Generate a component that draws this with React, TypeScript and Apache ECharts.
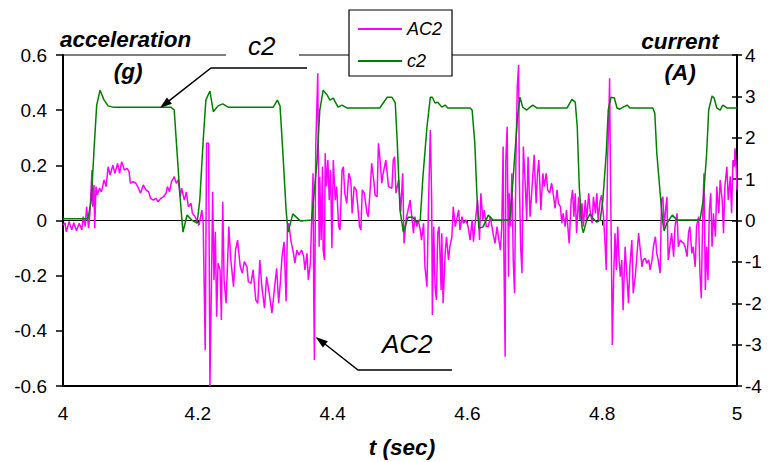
import React, { useEffect, useRef } from "react";
import * as echarts from "echarts";

const FONT = "'Liberation Sans', Arial, Helvetica, sans-serif";

const legendNames = ["AC2", "c2"];
const leftAxisName = "acceleration";
const leftAxisUnit = "(g)";
const rightAxisName = "current";
const rightAxisUnit = "(A)";
const xAxisName = "t (sec)";

// c2: current (A) vs time (s)
const curT = [4.000, 4.037, 4.042, 4.046, 4.050, 4.055, 4.061, 4.067, 4.074, 4.160, 4.165, 4.169, 4.174, 4.178, 4.184, 4.191, 4.199, 4.203, 4.208, 4.212, 4.218, 4.223, 4.230, 4.237, 4.245, 4.312, 4.318, 4.322, 4.326, 4.331, 4.334, 4.341, 4.352, 4.369, 4.377, 4.381, 4.386, 4.392, 4.396, 4.401, 4.408, 4.414, 4.421, 4.470, 4.481, 4.488, 4.493, 4.496, 4.500, 4.505, 4.512, 4.519, 4.525, 4.530, 4.534, 4.540, 4.545, 4.548, 4.552, 4.556, 4.562, 4.567, 4.571, 4.604, 4.607, 4.611, 4.614, 4.617, 4.623, 4.631, 4.638, 4.663, 4.668, 4.674, 4.678, 4.682, 4.688, 4.693, 4.697, 4.703, 4.748, 4.755, 4.760, 4.763, 4.766, 4.770, 4.772, 4.777, 4.782, 4.786, 4.792, 4.797, 4.801, 4.806, 4.809, 4.813, 4.818, 4.822, 4.826, 4.831, 4.837, 4.841, 4.875, 4.878, 4.881, 4.886, 4.890, 4.892, 4.896, 4.904, 4.911, 4.945, 4.950, 4.955, 4.958, 4.963, 4.966, 4.970, 4.975, 4.979, 4.985, 5.000];
const curA = [0.04, 0.04, 0.5, 1.7, 2.79, 3.15, 2.91, 2.77, 2.74, 2.74, 2.67, 1.70, 0.50, -0.28, 0.13, 0.01, -0.06, 0.5, 1.94, 2.91, 3.13, 2.63, 2.77, 2.82, 2.74, 2.74, 2.91, 2.77, 1.70, 0.25, -0.28, 0.16, -0.01, 0.01, 1.46, 2.67, 3.15, 3.03, 2.91, 2.96, 2.74, 2.79, 2.72, 2.72, 2.98, 2.98, 2.84, 1.87, 0.25, -0.28, 0.08, 0.08, -0.04, 0.01, 1.05, 2.26, 2.98, 2.98, 2.84, 2.86, 2.74, 2.79, 2.72, 2.72, 2.67, 1.87, 0.66, -0.18, -0.16, 0.13, 0.01, 0.01, 1.05, 2.43, 2.98, 2.74, 2.67, 2.74, 2.79, 2.72, 2.72, 2.93, 2.86, 2.26, 0.81, -0.16, -0.30, 0.01, 0.16, 0.06, -0.04, 0.01, 0.50, 1.63, 2.67, 2.98, 2.96, 2.72, 2.69, 2.74, 2.79, 2.72, 2.72, 2.60, 1.63, 0.66, -0.06, -0.25, -0.06, 0.13, 0.01, 0.01, 0.50, 1.63, 2.67, 3.01, 2.96, 2.72, 2.67, 2.79, 2.72, 2.72];

// AC2: acceleration (g) samples [t, g]
const accSamples: [number, number][] = [
  [4.000, -0.016], [4.003, -0.009], [4.005, -0.041], [4.009, -0.004], [4.013, -0.034], [4.016, -0.008],
  [4.020, -0.037], [4.024, -0.010], [4.028, -0.034], [4.030, 0.014], [4.033, -0.022], [4.035, 0.050],
  [4.038, -0.028], [4.040, 0.027], [4.043, 0.183], [4.044, 0.050], [4.046, 0.129], [4.047, -0.028],
  [4.049, 0.123], [4.051, 0.092], [4.054, 0.117], [4.057, 0.104], [4.061, 0.147], [4.064, 0.123],
  [4.067, 0.195], [4.070, 0.165], [4.074, 0.201], [4.077, 0.171], [4.081, 0.207], [4.084, 0.171],
  [4.087, 0.213], [4.091, 0.183], [4.095, 0.189], [4.098, 0.177], [4.100, 0.135], [4.104, 0.141],
  [4.108, 0.135], [4.112, 0.117], [4.115, 0.099], [4.119, 0.129], [4.123, 0.111], [4.127, 0.104],
  [4.130, 0.080], [4.134, 0.074], [4.138, 0.080], [4.141, 0.068], [4.145, 0.080], [4.149, 0.086],
  [4.153, 0.099], [4.155, 0.123], [4.158, 0.104], [4.161, 0.141], [4.165, 0.159], [4.168, 0.135],
  [4.171, 0.147], [4.174, 0.086], [4.176, 0.117], [4.180, 0.074], [4.183, 0.104], [4.186, 0.050],
  [4.190, 0.062], [4.192, 0.026], [4.196, 0.014], [4.199, -0.004], [4.202, -0.016], [4.206, 0.038],
  [4.208, -0.010], [4.211, -0.470], [4.213, 0.280], [4.216, 0.280], [4.218, -0.600], [4.221, -0.095],
  [4.222, 0.104], [4.224, -0.216], [4.226, -0.041], [4.228, -0.349], [4.230, -0.155], [4.233, -0.179],
  [4.235, -0.361], [4.237, 0.068], [4.239, -0.216], [4.242, -0.300], [4.245, -0.095], [4.246, -0.022],
  [4.249, -0.143], [4.253, -0.240], [4.256, -0.107], [4.259, -0.071], [4.263, -0.168], [4.266, -0.191],
  [4.269, -0.149], [4.273, -0.168], [4.275, -0.222], [4.279, -0.228], [4.282, -0.179], [4.286, -0.288],
  [4.289, -0.300], [4.292, -0.143], [4.295, -0.240], [4.299, -0.318], [4.302, -0.204], [4.306, -0.264],
  [4.310, -0.336], [4.314, -0.240], [4.317, -0.173], [4.320, -0.300], [4.322, -0.240], [4.325, -0.131],
  [4.328, -0.077], [4.331, -0.294], [4.333, -0.022], [4.335, -0.010], [4.338, -0.071], [4.342, -0.119],
  [4.344, -0.155], [4.347, -0.107], [4.350, -0.125], [4.354, -0.107], [4.357, -0.131], [4.359, -0.179],
  [4.362, -0.119], [4.364, -0.216], [4.367, -0.155], [4.369, 0.002], [4.371, 0.171], [4.372, -0.264],
  [4.373, -0.506], [4.375, 0.268], [4.378, 0.534], [4.380, -0.095], [4.381, 0.159], [4.383, -0.071],
  [4.385, 0.195], [4.386, -0.107], [4.388, -0.143], [4.389, 0.244], [4.391, 0.123], [4.393, 0.219],
  [4.395, 0.074], [4.397, 0.183], [4.399, -0.101], [4.401, 0.219], [4.404, 0.074], [4.406, 0.123],
  [4.409, -0.022], [4.411, -0.034], [4.414, 0.183], [4.416, 0.195], [4.418, 0.099], [4.421, 0.062],
  [4.424, 0.171], [4.427, 0.147], [4.429, 0.026], [4.432, 0.123], [4.435, 0.111], [4.437, 0.062],
  [4.440, -0.022], [4.442, -0.034], [4.444, 0.111], [4.447, 0.099], [4.451, 0.026], [4.453, 0.014],
  [4.456, 0.123], [4.458, 0.207], [4.461, 0.147], [4.463, 0.092], [4.466, 0.086], [4.468, 0.280],
  [4.470, 0.231], [4.473, 0.135], [4.475, 0.171], [4.479, 0.219], [4.483, 0.123], [4.488, 0.117],
  [4.490, 0.219], [4.492, 0.231], [4.494, 0.099], [4.498, 0.147], [4.501, 0.032], [4.504, 0.171],
  [4.506, -0.083], [4.509, 0.002], [4.512, 0.038], [4.515, 0.074], [4.517, 0.026], [4.520, -0.046],
  [4.522, 0.014], [4.525, -0.022], [4.527, 0.002], [4.530, -0.034], [4.532, -0.071], [4.535, -0.010],
  [4.537, -0.168], [4.540, -0.240], [4.542, 0.026], [4.545, 0.328], [4.547, 0.074], [4.548, -0.343],
  [4.550, -0.022], [4.552, -0.240], [4.554, -0.288], [4.556, -0.046], [4.558, -0.022], [4.561, -0.252],
  [4.562, -0.046], [4.564, -0.300], [4.567, -0.119], [4.569, -0.059], [4.572, -0.143], [4.574, -0.095],
  [4.577, -0.059], [4.579, 0.050], [4.582, -0.022], [4.584, 0.002], [4.587, 0.038], [4.589, -0.034],
  [4.592, 0.014], [4.594, -0.010], [4.598, 0.002], [4.601, -0.022], [4.604, -0.071], [4.607, 0.002],
  [4.609, -0.077], [4.611, -0.022], [4.615, 0.074], [4.618, -0.071], [4.620, 0.099], [4.623, 0.002],
  [4.625, 0.038], [4.628, -0.022], [4.631, -0.022], [4.634, 0.014], [4.638, -0.046], [4.641, -0.083],
  [4.644, -0.022], [4.646, -0.059], [4.649, -0.107], [4.651, -0.022], [4.653, 0.268], [4.654, -0.095],
  [4.656, -0.494], [4.657, 0.219], [4.659, 0.340], [4.661, -0.204], [4.662, 0.099], [4.664, -0.022],
  [4.666, 0.171], [4.668, -0.143], [4.670, -0.264], [4.672, 0.219], [4.674, 0.485], [4.676, 0.564],
  [4.677, 0.159], [4.679, -0.095], [4.681, -0.191], [4.683, 0.268], [4.686, 0.123], [4.688, 0.002],
  [4.690, 0.231], [4.693, 0.014], [4.696, 0.123], [4.699, 0.238], [4.702, 0.062], [4.704, 0.171],
  [4.706, 0.219], [4.709, 0.038], [4.712, 0.171], [4.714, 0.123], [4.717, 0.171], [4.719, 0.111],
  [4.722, 0.099], [4.725, 0.135], [4.728, 0.086], [4.730, 0.044], [4.733, 0.111], [4.735, 0.062],
  [4.738, 0.050], [4.740, -0.010], [4.742, 0.026], [4.745, -0.022], [4.747, 0.038], [4.751, -0.083],
  [4.754, 0.074], [4.756, 0.111], [4.758, 0.014], [4.760, 0.099], [4.762, -0.046], [4.765, 0.086],
  [4.767, 0.002], [4.770, 0.062], [4.772, -0.022], [4.775, 0.074], [4.777, 0.002], [4.780, 0.099],
  [4.782, 0.038], [4.785, -0.010], [4.787, 0.086], [4.790, 0.026], [4.792, 0.099], [4.794, 0.002],
  [4.797, 0.074], [4.799, 0.092], [4.802, 0.014], [4.804, -0.071], [4.806, -0.179], [4.808, 0.219],
  [4.810, 0.389], [4.811, 0.516], [4.812, 0.219], [4.814, -0.204], [4.815, -0.451], [4.817, -0.204],
  [4.819, -0.046], [4.821, -0.179], [4.823, -0.022], [4.825, -0.143], [4.827, -0.204], [4.829, -0.143],
  [4.831, -0.325], [4.833, -0.168], [4.834, -0.095], [4.837, -0.216], [4.839, -0.300], [4.841, -0.168],
  [4.844, -0.071], [4.846, -0.264], [4.849, -0.204], [4.851, -0.143], [4.854, -0.046], [4.856, -0.095],
  [4.859, -0.168], [4.861, -0.143], [4.864, -0.137], [4.866, -0.155], [4.869, -0.143], [4.871, -0.179],
  [4.874, -0.143], [4.876, -0.095], [4.879, -0.059], [4.881, -0.119], [4.883, -0.143], [4.886, -0.191],
  [4.888, 0.074], [4.890, 0.086], [4.892, -0.022], [4.894, 0.038], [4.896, 0.086], [4.898, -0.143],
  [4.901, -0.083], [4.903, -0.046], [4.906, -0.131], [4.908, -0.022], [4.911, 0.026], [4.913, -0.095],
  [4.916, -0.071], [4.918, -0.077], [4.921, -0.083], [4.923, -0.095], [4.926, -0.131], [4.928, -0.046],
  [4.930, -0.022], [4.933, -0.119], [4.935, -0.095], [4.938, -0.168], [4.940, -0.022], [4.943, 0.014],
  [4.945, -0.191], [4.947, -0.282], [4.949, 0.002], [4.951, 0.171], [4.953, -0.252], [4.955, -0.095],
  [4.957, -0.216], [4.959, 0.038], [4.961, 0.099], [4.963, -0.095], [4.965, 0.026], [4.968, -0.059],
  [4.970, 0.123], [4.973, 0.026], [4.975, 0.147], [4.978, 0.074], [4.980, -0.046], [4.982, 0.123],
  [4.985, 0.195], [4.987, 0.074], [4.990, 0.159], [4.992, 0.026], [4.994, 0.219], [4.996, 0.195],
  [4.997, 0.262], [4.999, 0.183], [5.000, 0.111],
];

export default function App() {
  const ref = useRef<HTMLDivElement>(null);
  useEffect(() => {
    if (!ref.current) return;
    const chart = echarts.init(ref.current, null, { renderer: "svg" });
    const cur = curT.map((t, i) => [t, curA[i]]);
    const black = "#000000";
    const txt = (text: string, x: number, y: number, size: number, style: string, weight: string, align: string) => ({
      type: "text",
      x,
      y,
      z: 20,
      style: {
        text,
        fontSize: size,
        fontFamily: FONT,
        fontStyle: style,
        fontWeight: weight,
        fill: black,
        align,
        verticalAlign: "middle",
      },
    });
    chart.setOption({
      animation: false,
      backgroundColor: "#ffffff",
      textStyle: { fontFamily: FONT },
      grid: {
        left: 63,
        right: 32,
        top: 55,
        bottom: 76,
        show: true,
        borderColor: black,
        borderWidth: 1,
        backgroundColor: "transparent",
      },
      legend: {
        orient: "vertical",
        left: 349,
        top: 10,
        padding: [10, 10, 6, 8],
        itemWidth: 44,
        itemHeight: 18,
        itemGap: 14,
        backgroundColor: "#ffffff",
        borderColor: black,
        borderWidth: 1.2,
        borderRadius: 0,
        itemStyle: { opacity: 0, color: "transparent", borderWidth: 0 },
        lineStyle: { width: 2 },
        textStyle: { fontFamily: FONT, fontSize: 18, fontStyle: "italic", color: black },
        data: legendNames,
      },
      xAxis: [
        {
          type: "value",
          min: 4,
          max: 5,
          interval: 0.2,
          position: "bottom",
          axisLine: { show: true, onZero: false, lineStyle: { color: black, width: 2 } },
          axisTick: { show: false },
          axisLabel: { fontSize: 19, color: black, margin: 18, fontFamily: FONT },
          splitLine: { show: false },
        },
        {
          type: "value",
          min: 4,
          max: 5,
          interval: 0.2,
          position: "bottom",
          axisLine: { show: true, onZero: true, lineStyle: { color: black, width: 1 } },
          axisTick: { show: true, length: 5, lineStyle: { color: black, width: 1 } },
          axisLabel: { show: false },
          splitLine: { show: false },
        },
      ],
      yAxis: [
        {
          type: "value",
          min: -0.6,
          max: 0.6,
          interval: 0.2,
          position: "left",
          axisLine: { show: true, lineStyle: { color: black, width: 2 } },
          axisTick: { show: true, length: 7, lineStyle: { color: black, width: 1.5 } },
          axisLabel: { fontSize: 19, color: black, margin: 16, fontFamily: FONT },
          splitLine: { show: false },
        },
        {
          type: "value",
          min: -4,
          max: 4,
          interval: 1,
          position: "right",
          axisLine: { show: true, lineStyle: { color: black, width: 2 } },
          axisTick: { show: true, length: 5, lineStyle: { color: black, width: 1.5 } },
          axisLabel: { fontSize: 19, color: black, margin: 8, fontFamily: FONT },
          splitLine: { show: false },
        },
        {
          type: "value",
          min: -4,
          max: 4,
          interval: 1,
          position: "right",
          axisLine: { show: false },
          axisTick: { show: true, inside: true, length: 5, lineStyle: { color: black, width: 1.5 } },
          axisLabel: { show: false },
          splitLine: { show: false },
        },
      ],
      series: [
        {
          name: legendNames[0],
          type: "line",
          xAxisIndex: 0,
          yAxisIndex: 0,
          data: accSamples,
          symbol: "none",
          lineStyle: { color: "#ff00ff", width: 1.5 },
          itemStyle: { color: "#ff00ff" },
        },
        {
          name: legendNames[1],
          type: "line",
          xAxisIndex: 0,
          yAxisIndex: 1,
          data: cur,
          symbol: "none",
          lineStyle: { color: "#008000", width: 1.5 },
          itemStyle: { color: "#008000" },
        },
      ],
      graphic: [
        { type: "rect", z: 15, shape: { x: 226, y: 49, width: 73, height: 12 }, style: { fill: "#ffffff" } },
        txt("c2", 248, 46, 26, "italic", "normal", "left"),
        { type: "polyline", z: 20, shape: { points: [[307, 68], [211, 68], [168, 101.7]] }, style: { stroke: black, lineWidth: 1.5, fill: null } },
        { type: "polygon", z: 20, shape: { points: [[160, 108], [171.9, 103.7], [166.9, 97.5]] }, style: { fill: black } },
        txt("AC2", 382, 344, 26, "italic", "normal", "left"),
        { type: "polyline", z: 20, shape: { points: [[452, 370], [358, 370], [323, 342.5]] }, style: { stroke: black, lineWidth: 1.5, fill: null } },
        { type: "polygon", z: 20, shape: { points: [[315.5, 337], [322.9, 347.5], [327.9, 341.3]] }, style: { fill: black } },
        txt(leftAxisName, 60, 39, 22.5, "italic", "bold", "left"),
        txt(leftAxisUnit, 128, 71, 22.5, "italic", "bold", "center"),
        txt(rightAxisName, 680, 41, 22.5, "italic", "bold", "center"),
        txt(rightAxisUnit, 680, 72, 22.5, "italic", "bold", "center"),
        txt(xAxisName, 402, 447, 22.5, "italic", "bold", "center"),
      ],
    });
    return () => chart.dispose();
  }, []);
  return (
    <div
      ref={ref}
      style={{ position: "fixed", left: 0, top: 0, width: 769, height: 462, background: "#ffffff" }}
    />
  );
}
